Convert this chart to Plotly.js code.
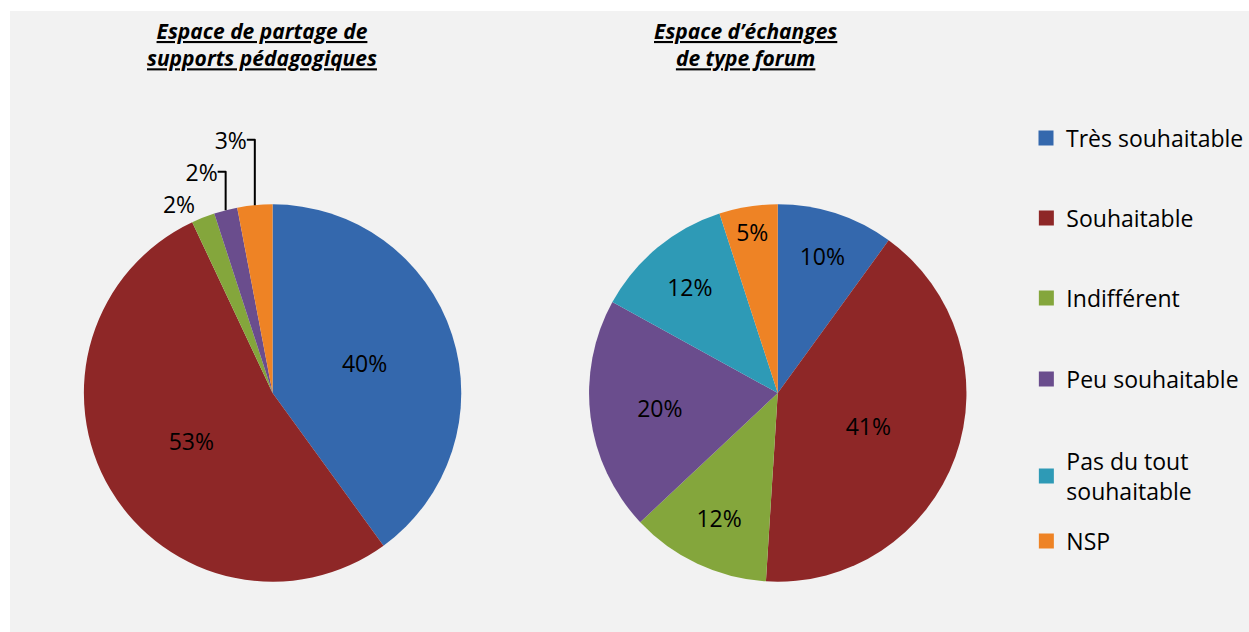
<!DOCTYPE html>
<html><head><meta charset="utf-8">
<script src="https://cdn.plot.ly/plotly-3.0.1.min.js"></script>
<style>
html,body{margin:0;padding:0;background:#ffffff;}
#chart{position:absolute;left:10px;top:11px;width:1239px;height:621px;}
</style></head>
<body><div id="chart"></div>
<script>
const categories = ["Très souhaitable","Souhaitable","Indifférent","Peu souhaitable","Pas du tout<br>souhaitable","NSP"];
const legendNames = ["Très souhaitable","Souhaitable","Indifférent","Peu souhaitable","Pas du tout<br>souhaitable","NSP"];
const colors = ["#3468ad","#8e2727","#84a63c","#6a4d8d","#2e9ab6","#ee8325"];
const supportsValues = [40, 53, 2, 2, 0, 3];
const forumValues = [10, 41, 12, 20, 12, 5];
const titles = ["<b><i><u>Espace de partage de</u></i></b><br><b><i><u>supports pédagogiques</u></i></b>",
                "<b><i><u>Espace d’échanges</u></i></b><br><b><i><u>de type forum</u></i></b>"];

const FONT = "'Open Sans', Lato, sans-serif";
const H = 621, W = 1239, R = 189;
const cy = H - 382;
function dom(cx){ return {x:[(cx-R)/W,(cx+R)/W], y:[(cy-R)/H,(cy+R)/H]}; }

function txt(vals){ return vals.map(v => v>0 ? v+"%" : ""); }

const traces = [
 {type:"pie", labels:categories, values:supportsValues, sort:false, direction:"clockwise", rotation:0,
  marker:{colors:colors, line:{width:0}}, text:txt(supportsValues), textinfo:"text",
  textposition:["inside","inside","outside","outside","none","outside"],
  insidetextorientation:"horizontal",
  textfont:{family:FONT,size:23,color:"#000"}, showlegend:false, domain:dom(263), hoverinfo:"label+text"},
 {type:"pie", labels:categories, values:forumValues, sort:false, direction:"clockwise", rotation:0,
  marker:{colors:colors, line:{width:0}}, text:txt(forumValues), textinfo:"text",
  textposition:"inside", insidetextorientation:"horizontal",
  textfont:{family:FONT,size:23,color:"#000"}, showlegend:false, domain:dom(769), hoverinfo:"label+text"}
];
const legendY = [138,218,298,379,476,541];
const layout = {
  width:W, height:H, margin:{l:0,r:0,t:0,b:0},
  paper_bgcolor:"#f2f2f2", plot_bgcolor:"rgba(0,0,0,0)",
  xaxis:{visible:false, domain:[0.99,1]}, yaxis:{visible:false, domain:[0.99,1]},
  font:{family:FONT, color:"#000"},
  annotations:[
    {text:titles[0], x:252/W, y:1-4/H, xref:"paper", yref:"paper", xanchor:"center", yanchor:"top", showarrow:false, font:{family:FONT,size:21,color:"#000"}},
    {text:titles[1], x:737/W, y:1-4/H, xref:"paper", yref:"paper", xanchor:"center", yanchor:"top", showarrow:false, font:{family:FONT,size:21,color:"#000"}}
  ]
};

legendNames.forEach((n,i)=>{
  const key = i===0 ? "legend" : "legend"+(i+1);
  traces.push({type:"scatter", mode:"markers", x:[null], y:[null], name:n, legend:key,
    marker:{symbol:"square", size:15, color:colors[i]}, showlegend:true, hoverinfo:"skip"});
  layout[key] = {x:(1028-10)/W, xanchor:"left", y:1-(legendY[i]-11)/H, yanchor:"middle",
    bgcolor:"rgba(0,0,0,0)", font:{family:FONT,size:23,color:"#000"}, itemclick:false, itemdoubleclick:false};
});

Plotly.newPlot("chart", traces, layout, {displayModeBar:false, staticPlot:true});
</script></body></html>
